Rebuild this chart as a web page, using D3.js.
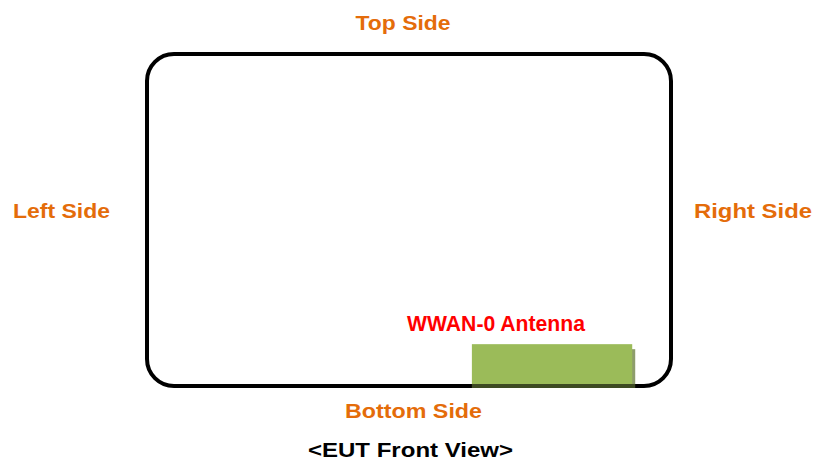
<!DOCTYPE html>
<html>
<head>
<meta charset="utf-8">
<script src="https://cdn.jsdelivr.net/npm/d3@7"></script>
<style>
  body { margin: 0; background: #fff; }
  svg { display: block; }
</style>
</head>
<body>
<svg id="viz"></svg>
<script>
// labels in the picture
const sideNames = ["Top Side", "Left Side", "Right Side", "Bottom Side"]
const antennaName = "WWAN-0 Antenna"
const viewTitle = "<EUT Front View>"

// frame of the device, in device units (0..100 each way)
const frameDomain = [0, 100]
// antenna block on the bottom edge, same units
const antennaX = [62, 92.6]
const antennaY = [87.4, 100]

const width = 813
const height = 465
const frame = {left: 147, right: 671, top: 54, bottom: 386}

const svg = d3.select("#viz")
    .attr("width", width)
    .attr("height", height)
    .attr("viewBox", [0, 0, width, height])

const x = d3.scaleLinear().domain(frameDomain).range([frame.left, frame.right])
const y = d3.scaleLinear().domain(frameDomain).range([frame.top, frame.bottom])

const orange = "#e46c0a"
const font = "'Liberation Sans', Arial, sans-serif"

// antenna shadow + block
svg.append("rect")
    .attr("x", x(antennaX[0]) + 3)
    .attr("y", y(antennaY[0]) + 5)
    .attr("width", x(antennaX[1]) - x(antennaX[0]))
    .attr("height", y(antennaY[1]) - y(antennaY[0]) - 3)
    .attr("fill", "#8e9d6c")

svg.append("rect")
    .attr("x", x(antennaX[0]))
    .attr("y", y(antennaY[0]))
    .attr("width", x(antennaX[1]) - x(antennaX[0]))
    .attr("height", y(antennaY[1]) - y(antennaY[0]))
    .attr("fill", "#9bbb59")

// rounded outline of the device
svg.append("rect")
    .attr("x", x(0))
    .attr("y", y(0))
    .attr("width", x(100) - x(0))
    .attr("height", y(100) - y(0))
    .attr("rx", 27)
    .attr("ry", 27)
    .attr("fill", "none")
    .attr("stroke", "#000")
    .attr("stroke-width", 4)

// dark strip where the antenna sits on the edge
svg.append("line")
    .attr("x1", x(antennaX[0]))
    .attr("x2", x(antennaX[1]) + 3)
    .attr("y1", y(100))
    .attr("y2", y(100))
    .attr("stroke", "#3d4a22")
    .attr("stroke-width", 4)

// side labels: [name, cx, baseline, width]
const sideLayout = [
    [sideNames[0], 403, 30, 95],
    [sideNames[1], 61.5, 218, 97],
    [sideNames[2], 753, 218, 118],
    [sideNames[3], 413.5, 418, 137]
]

svg.append("g")
    .selectAll("text")
    .data(sideLayout)
    .join("text")
    .attr("x", d => d[1] - d[3] / 2)
    .attr("y", d => d[2])
    .attr("textLength", d => d[3])
    .attr("lengthAdjust", "spacingAndGlyphs")
    .attr("font-family", font)
    .attr("font-weight", "bold")
    .attr("font-size", 20)
    .attr("fill", orange)
    .text(d => d[0])

svg.append("text")
    .attr("x", 407)
    .attr("y", 331)
    .attr("textLength", 178)
    .attr("lengthAdjust", "spacingAndGlyphs")
    .attr("font-family", font)
    .attr("font-weight", "bold")
    .attr("font-size", 21.5)
    .attr("fill", "#ff0000")
    .text(antennaName)

svg.append("text")
    .attr("x", 308)
    .attr("y", 457)
    .attr("textLength", 205)
    .attr("lengthAdjust", "spacingAndGlyphs")
    .attr("font-family", font)
    .attr("font-weight", "bold")
    .attr("font-size", 20)
    .attr("fill", "#000")
    .text(viewTitle)
</script>
</body>
</html>
